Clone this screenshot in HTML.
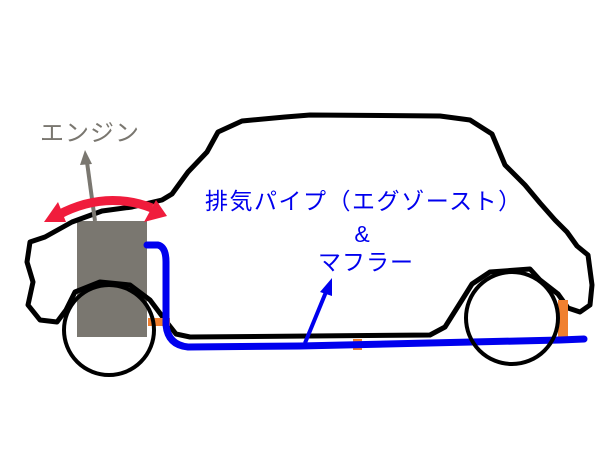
<!DOCTYPE html>
<html><head><meta charset="utf-8"><style>
html,body{margin:0;padding:0;background:#fff;width:600px;height:450px;overflow:hidden}
svg text{font-family:"Liberation Sans","Noto Sans CJK JP",sans-serif}
</style></head><body>
<svg width="600" height="450" viewBox="0 0 600 450" xmlns="http://www.w3.org/2000/svg">
<rect width="600" height="450" fill="#fff"/>
<rect x="77" y="221" width="70" height="116" fill="#7a7770"/>
<path d="M45,237 L30,242 L27,262 L33,282 L28,305 L40,320 L57,322 L66,310 L75,292 L100,282 L130,285 L150,300 L165,320 L176,334 L190,337 L430,335 L445,327 L462,300 L472,284 L490,272 L530,269 L540,280 L558,294 L568,308 L580,312 L590,305 L592,285 L588,255 L577,246 L567,232 L555,220 L540,203 L525,185 L505,165 L492,134 L470,120 L440,116 L310,115 L285,117 L242,121 L218,132 L207,152 L188,172 L172,194 L162,200 L132,207 L102,211 L72,222 Z" fill="none" stroke="#000" stroke-width="5" stroke-linejoin="round"/>
<rect x="148" y="318" width="22" height="8" fill="#f08030"/>
<rect x="353" y="339" width="9" height="11" fill="#f08030"/>
<rect x="558" y="300" width="10" height="42" fill="#f08030"/>
<path d="M147,245 L158,245 Q166,247 166,262 L166,325 Q168,345 188,347 L300,346 L560,340 L584,339" fill="none" stroke="#0000ee" stroke-width="7" stroke-linecap="round" stroke-linejoin="round"/>
<circle cx="109" cy="330" r="45" fill="none" stroke="#000" stroke-width="4"/>
<circle cx="512" cy="318" r="46" fill="none" stroke="#000" stroke-width="4"/>
<line x1="95" y1="221" x2="87" y2="162" stroke="#7a7770" stroke-width="4"/>
<polygon points="85,150 80,165 92,164" fill="#7a7770"/>
<text x="40" y="141" font-size="24" fill="#7a7770" letter-spacing="1">エンジン</text>
<path d="M58,215 Q105,190 152,208" fill="none" stroke="#f01c3c" stroke-width="9"/>
<polygon points="44,222 58,202 66,222" fill="#f01c3c"/>
<polygon points="167,216 144,222 156,200" fill="#f01c3c"/>
<text x="205" y="209" font-size="23" fill="#0000ee" letter-spacing="1.5">排気パイプ（エグゾースト）</text>
<text x="362" y="242" font-size="23" fill="#0000ee" text-anchor="middle">&amp;</text>
<text x="366" y="270" font-size="23" fill="#0000ee" text-anchor="middle" letter-spacing="1">マフラー</text>
<line x1="305" y1="343" x2="326" y2="292" stroke="#0000ee" stroke-width="4"/>
<polygon points="332,278 320,292 332,296" fill="#0000ee"/>
</svg>
</body></html>
